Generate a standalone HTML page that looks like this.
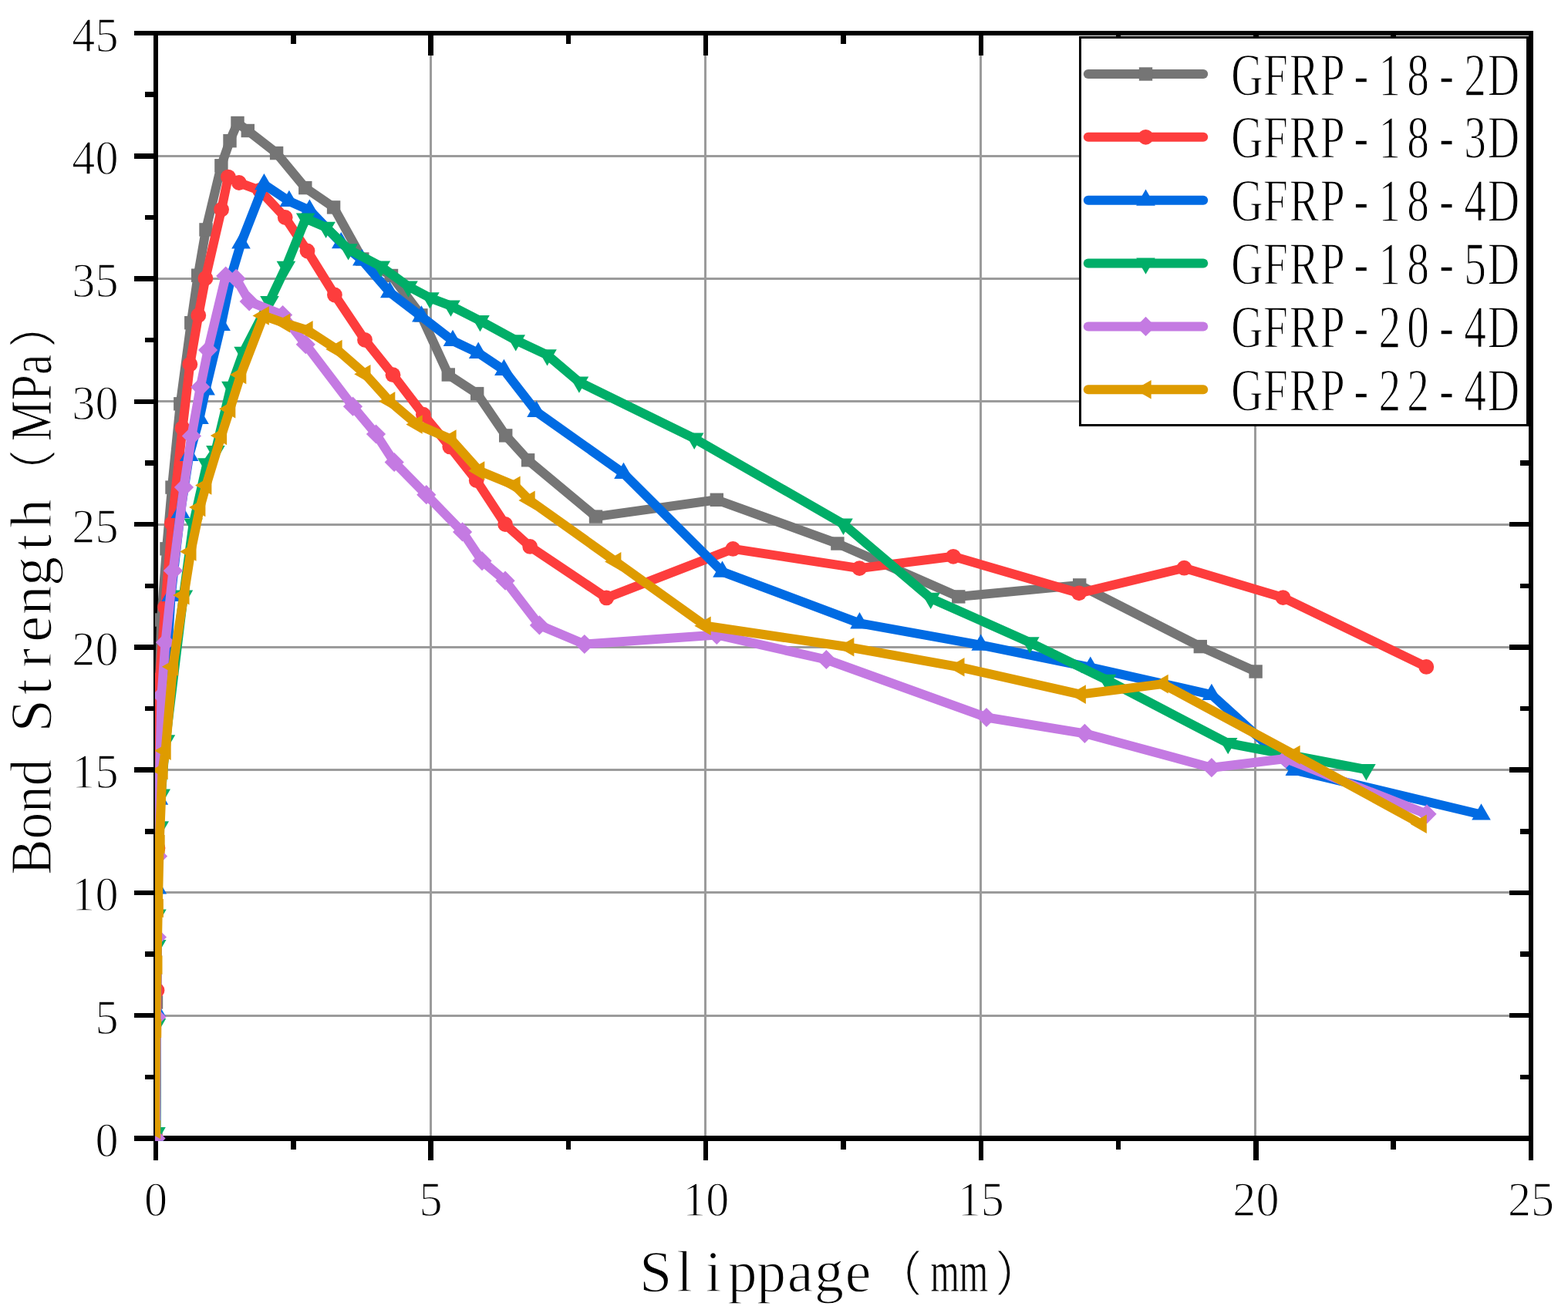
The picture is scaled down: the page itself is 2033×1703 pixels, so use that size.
<!DOCTYPE html>
<html lang="en"><head><meta charset="utf-8">
<style>html,body{margin:0;padding:0;background:#fff;}body{width:2033px;height:1703px;overflow:hidden;}svg{display:block;}text{font-family:'Liberation Serif', 'IPAGothic', serif;fill:#000;stroke:#fff;stroke-width:1.3px;stroke-linejoin:round;}</style>
</head><body>
<svg width="2033" height="1703" viewBox="0 0 2033 1703">
<rect x="0" y="0" width="2033" height="1703" fill="#fff"/>
<defs><clipPath id="plotclip"><rect x="201" y="43" width="1784" height="1436.7"/></clipPath></defs>
<g fill="#9b9b9b" shape-rendering="crispEdges">
<rect x="557" y="43" width="3" height="1433.5"/>
<rect x="913" y="43" width="3" height="1433.5"/>
<rect x="1270" y="43" width="3" height="1433.5"/>
<rect x="1626" y="43" width="3" height="1433.5"/>
<rect x="202" y="1316" width="1783" height="3"/>
<rect x="202" y="1156" width="1783" height="3"/>
<rect x="202" y="997" width="1783" height="3"/>
<rect x="202" y="838" width="1783" height="3"/>
<rect x="202" y="679" width="1783" height="3"/>
<rect x="202" y="519" width="1783" height="3"/>
<rect x="202" y="360" width="1783" height="3"/>
<rect x="202" y="201" width="1783" height="3"/>
</g>
<g stroke="#000" stroke-width="6.5" fill="none" shape-rendering="crispEdges">
<rect x="202" y="43" width="1783" height="1433.5"/>
<line x1="202" y1="1476.5" x2="202" y2="1505"/>
<line x1="202" y1="43" x2="202" y2="71.5"/>
<line x1="380.3" y1="1476.5" x2="380.3" y2="1490.5"/>
<line x1="380.3" y1="43" x2="380.3" y2="57"/>
<line x1="558.6" y1="1476.5" x2="558.6" y2="1505"/>
<line x1="558.6" y1="43" x2="558.6" y2="71.5"/>
<line x1="736.9" y1="1476.5" x2="736.9" y2="1490.5"/>
<line x1="736.9" y1="43" x2="736.9" y2="57"/>
<line x1="915.2" y1="1476.5" x2="915.2" y2="1505"/>
<line x1="915.2" y1="43" x2="915.2" y2="71.5"/>
<line x1="1093.5" y1="1476.5" x2="1093.5" y2="1490.5"/>
<line x1="1093.5" y1="43" x2="1093.5" y2="57"/>
<line x1="1271.8" y1="1476.5" x2="1271.8" y2="1505"/>
<line x1="1271.8" y1="43" x2="1271.8" y2="71.5"/>
<line x1="1450.1" y1="1476.5" x2="1450.1" y2="1490.5"/>
<line x1="1450.1" y1="43" x2="1450.1" y2="57"/>
<line x1="1628.4" y1="1476.5" x2="1628.4" y2="1505"/>
<line x1="1628.4" y1="43" x2="1628.4" y2="71.5"/>
<line x1="1806.7" y1="1476.5" x2="1806.7" y2="1490.5"/>
<line x1="1806.7" y1="43" x2="1806.7" y2="57"/>
<line x1="1985" y1="1476.5" x2="1985" y2="1505"/>
<line x1="1985" y1="43" x2="1985" y2="71.5"/>
<line x1="202" y1="1476.5" x2="173.5" y2="1476.5"/>
<line x1="1985" y1="1476.5" x2="1956.5" y2="1476.5"/>
<line x1="202" y1="1396.86" x2="188" y2="1396.86"/>
<line x1="1985" y1="1396.86" x2="1971" y2="1396.86"/>
<line x1="202" y1="1317.22" x2="173.5" y2="1317.22"/>
<line x1="1985" y1="1317.22" x2="1956.5" y2="1317.22"/>
<line x1="202" y1="1237.58" x2="188" y2="1237.58"/>
<line x1="1985" y1="1237.58" x2="1971" y2="1237.58"/>
<line x1="202" y1="1157.94" x2="173.5" y2="1157.94"/>
<line x1="1985" y1="1157.94" x2="1956.5" y2="1157.94"/>
<line x1="202" y1="1078.31" x2="188" y2="1078.31"/>
<line x1="1985" y1="1078.31" x2="1971" y2="1078.31"/>
<line x1="202" y1="998.67" x2="173.5" y2="998.67"/>
<line x1="1985" y1="998.67" x2="1956.5" y2="998.67"/>
<line x1="202" y1="919.03" x2="188" y2="919.03"/>
<line x1="1985" y1="919.03" x2="1971" y2="919.03"/>
<line x1="202" y1="839.39" x2="173.5" y2="839.39"/>
<line x1="1985" y1="839.39" x2="1956.5" y2="839.39"/>
<line x1="202" y1="759.75" x2="188" y2="759.75"/>
<line x1="1985" y1="759.75" x2="1971" y2="759.75"/>
<line x1="202" y1="680.11" x2="173.5" y2="680.11"/>
<line x1="1985" y1="680.11" x2="1956.5" y2="680.11"/>
<line x1="202" y1="600.47" x2="188" y2="600.47"/>
<line x1="1985" y1="600.47" x2="1971" y2="600.47"/>
<line x1="202" y1="520.83" x2="173.5" y2="520.83"/>
<line x1="1985" y1="520.83" x2="1956.5" y2="520.83"/>
<line x1="202" y1="441.19" x2="188" y2="441.19"/>
<line x1="1985" y1="441.19" x2="1971" y2="441.19"/>
<line x1="202" y1="361.56" x2="173.5" y2="361.56"/>
<line x1="1985" y1="361.56" x2="1956.5" y2="361.56"/>
<line x1="202" y1="281.92" x2="188" y2="281.92"/>
<line x1="1985" y1="281.92" x2="1971" y2="281.92"/>
<line x1="202" y1="202.28" x2="173.5" y2="202.28"/>
<line x1="1985" y1="202.28" x2="1956.5" y2="202.28"/>
<line x1="202" y1="122.64" x2="188" y2="122.64"/>
<line x1="1985" y1="122.64" x2="1971" y2="122.64"/>
<line x1="202" y1="43" x2="173.5" y2="43"/>
<line x1="1985" y1="43" x2="1956.5" y2="43"/>
</g>
<g clip-path="url(#plotclip)">
<g>
<polyline fill="none" stroke="#757575" stroke-width="12.0" stroke-linejoin="round" stroke-linecap="round" points="202,1476.5 202.5,1300 203.5,1100 205.5,950 209,804 216,711.8 223,632.1 233.8,523.8 247.8,418.7 256.7,357.2 267,297.9 286.9,214.8 298,182.7 308,159.5 321.3,169.5 358.6,198.6 395.8,243.6 432.6,268.9 469.8,336 507.5,357.5 545.9,408.9 581.3,486 618.7,510.6 655.7,564.9 684.6,596.8 772.5,670.1 929.3,648.3 1085.9,705 1242.8,773.9 1399.7,758.9 1556.3,838.6 1628.1,871"/>
<rect x="193.3" y="1467.8" width="17.4" height="17.4" fill="#757575"/>
<rect x="193.8" y="1291.3" width="17.4" height="17.4" fill="#757575"/>
<rect x="194.8" y="1091.3" width="17.4" height="17.4" fill="#757575"/>
<rect x="196.8" y="941.3" width="17.4" height="17.4" fill="#757575"/>
<rect x="200.3" y="795.3" width="17.4" height="17.4" fill="#757575"/>
<rect x="207.3" y="703.1" width="17.4" height="17.4" fill="#757575"/>
<rect x="214.3" y="623.4" width="17.4" height="17.4" fill="#757575"/>
<rect x="225.1" y="515.1" width="17.4" height="17.4" fill="#757575"/>
<rect x="239.1" y="410" width="17.4" height="17.4" fill="#757575"/>
<rect x="248" y="348.5" width="17.4" height="17.4" fill="#757575"/>
<rect x="258.3" y="289.2" width="17.4" height="17.4" fill="#757575"/>
<rect x="278.2" y="206.1" width="17.4" height="17.4" fill="#757575"/>
<rect x="289.3" y="174" width="17.4" height="17.4" fill="#757575"/>
<rect x="299.3" y="150.8" width="17.4" height="17.4" fill="#757575"/>
<rect x="312.6" y="160.8" width="17.4" height="17.4" fill="#757575"/>
<rect x="349.9" y="189.9" width="17.4" height="17.4" fill="#757575"/>
<rect x="387.1" y="234.9" width="17.4" height="17.4" fill="#757575"/>
<rect x="423.9" y="260.2" width="17.4" height="17.4" fill="#757575"/>
<rect x="461.1" y="327.3" width="17.4" height="17.4" fill="#757575"/>
<rect x="498.8" y="348.8" width="17.4" height="17.4" fill="#757575"/>
<rect x="537.2" y="400.2" width="17.4" height="17.4" fill="#757575"/>
<rect x="572.6" y="477.3" width="17.4" height="17.4" fill="#757575"/>
<rect x="610" y="501.9" width="17.4" height="17.4" fill="#757575"/>
<rect x="647" y="556.2" width="17.4" height="17.4" fill="#757575"/>
<rect x="675.9" y="588.1" width="17.4" height="17.4" fill="#757575"/>
<rect x="763.8" y="661.4" width="17.4" height="17.4" fill="#757575"/>
<rect x="920.6" y="639.6" width="17.4" height="17.4" fill="#757575"/>
<rect x="1077.2" y="696.3" width="17.4" height="17.4" fill="#757575"/>
<rect x="1234.1" y="765.2" width="17.4" height="17.4" fill="#757575"/>
<rect x="1391" y="750.2" width="17.4" height="17.4" fill="#757575"/>
<rect x="1547.6" y="829.9" width="17.4" height="17.4" fill="#757575"/>
<rect x="1619.4" y="862.3" width="17.4" height="17.4" fill="#757575"/>
</g>
<g>
<polyline fill="none" stroke="#FD3D3D" stroke-width="12.0" stroke-linejoin="round" stroke-linecap="round" points="202,1476.5 203.5,1284.4 204.5,1100 207,881 214.1,787.6 222.9,679.1 236.6,555.2 246.3,472.6 257.3,409.1 266.4,360.9 287.1,271.7 295.9,229.6 309.9,237 337,247 369.7,282 398.5,325.5 433.9,382.5 473,440.8 509.5,486.2 548.9,537.7 583.3,579.4 617.7,623 655.1,680 687.2,708.9 786.3,775.4 950.3,711.9 1114.3,737.1 1236,721.8 1399,769.3 1535.4,736.7 1663.5,775.1 1849.3,864.9"/>
<circle cx="202" cy="1476.5" r="9.9" fill="#FD3D3D"/>
<circle cx="203.5" cy="1284.4" r="9.9" fill="#FD3D3D"/>
<circle cx="204.5" cy="1100" r="9.9" fill="#FD3D3D"/>
<circle cx="207" cy="881" r="9.9" fill="#FD3D3D"/>
<circle cx="214.1" cy="787.6" r="9.9" fill="#FD3D3D"/>
<circle cx="222.9" cy="679.1" r="9.9" fill="#FD3D3D"/>
<circle cx="236.6" cy="555.2" r="9.9" fill="#FD3D3D"/>
<circle cx="246.3" cy="472.6" r="9.9" fill="#FD3D3D"/>
<circle cx="257.3" cy="409.1" r="9.9" fill="#FD3D3D"/>
<circle cx="266.4" cy="360.9" r="9.9" fill="#FD3D3D"/>
<circle cx="287.1" cy="271.7" r="9.9" fill="#FD3D3D"/>
<circle cx="295.9" cy="229.6" r="9.9" fill="#FD3D3D"/>
<circle cx="309.9" cy="237" r="9.9" fill="#FD3D3D"/>
<circle cx="337" cy="247" r="9.9" fill="#FD3D3D"/>
<circle cx="369.7" cy="282" r="9.9" fill="#FD3D3D"/>
<circle cx="398.5" cy="325.5" r="9.9" fill="#FD3D3D"/>
<circle cx="433.9" cy="382.5" r="9.9" fill="#FD3D3D"/>
<circle cx="473" cy="440.8" r="9.9" fill="#FD3D3D"/>
<circle cx="509.5" cy="486.2" r="9.9" fill="#FD3D3D"/>
<circle cx="548.9" cy="537.7" r="9.9" fill="#FD3D3D"/>
<circle cx="583.3" cy="579.4" r="9.9" fill="#FD3D3D"/>
<circle cx="617.7" cy="623" r="9.9" fill="#FD3D3D"/>
<circle cx="655.1" cy="680" r="9.9" fill="#FD3D3D"/>
<circle cx="687.2" cy="708.9" r="9.9" fill="#FD3D3D"/>
<circle cx="786.3" cy="775.4" r="9.9" fill="#FD3D3D"/>
<circle cx="950.3" cy="711.9" r="9.9" fill="#FD3D3D"/>
<circle cx="1114.3" cy="737.1" r="9.9" fill="#FD3D3D"/>
<circle cx="1236" cy="721.8" r="9.9" fill="#FD3D3D"/>
<circle cx="1399" cy="769.3" r="9.9" fill="#FD3D3D"/>
<circle cx="1535.4" cy="736.7" r="9.9" fill="#FD3D3D"/>
<circle cx="1663.5" cy="775.1" r="9.9" fill="#FD3D3D"/>
<circle cx="1849.3" cy="864.9" r="9.9" fill="#FD3D3D"/>
</g>
<g>
<polyline fill="none" stroke="#006BE3" stroke-width="12.0" stroke-linejoin="round" stroke-linecap="round" points="202,1476.5 203,1312 203.8,1152.3 205.9,1036.7 221.6,773 233.9,664.9 245.2,590.9 258.5,542.9 266.6,505.3 286.6,421.9 299.8,358 312.5,315.5 342.4,239.2 374.9,260.9 401.4,272.7 442.3,315.2 469.4,337.3 505.3,379.1 546.4,410.5 587,442 620.2,457.8 653.4,479.9 695.5,534 808.5,614 936.5,741.6 1114.5,808.3 1271.7,836.7 1413.8,865.7 1570.9,901 1678.8,998.8 1920.5,1056.5"/>
<polygon points="202,1462.3 214.3,1483.6 189.7,1483.6" fill="#006BE3"/>
<polygon points="203,1297.8 215.3,1319.1 190.7,1319.1" fill="#006BE3"/>
<polygon points="203.8,1138.1 216.1,1159.4 191.5,1159.4" fill="#006BE3"/>
<polygon points="205.9,1022.5 218.2,1043.8 193.6,1043.8" fill="#006BE3"/>
<polygon points="221.6,758.8 233.9,780.1 209.3,780.1" fill="#006BE3"/>
<polygon points="233.9,650.7 246.2,672 221.6,672" fill="#006BE3"/>
<polygon points="245.2,576.7 257.5,598 232.9,598" fill="#006BE3"/>
<polygon points="258.5,528.7 270.8,550 246.2,550" fill="#006BE3"/>
<polygon points="266.6,491.1 278.9,512.4 254.3,512.4" fill="#006BE3"/>
<polygon points="286.6,407.7 298.9,429 274.3,429" fill="#006BE3"/>
<polygon points="299.8,343.8 312.1,365.1 287.5,365.1" fill="#006BE3"/>
<polygon points="312.5,301.3 324.8,322.6 300.2,322.6" fill="#006BE3"/>
<polygon points="342.4,225 354.7,246.3 330.1,246.3" fill="#006BE3"/>
<polygon points="374.9,246.7 387.2,268 362.6,268" fill="#006BE3"/>
<polygon points="401.4,258.5 413.7,279.8 389.1,279.8" fill="#006BE3"/>
<polygon points="442.3,301 454.6,322.3 430,322.3" fill="#006BE3"/>
<polygon points="469.4,323.1 481.7,344.4 457.1,344.4" fill="#006BE3"/>
<polygon points="505.3,364.9 517.6,386.2 493,386.2" fill="#006BE3"/>
<polygon points="546.4,396.3 558.7,417.6 534.1,417.6" fill="#006BE3"/>
<polygon points="587,427.8 599.3,449.1 574.7,449.1" fill="#006BE3"/>
<polygon points="620.2,443.6 632.5,464.9 607.9,464.9" fill="#006BE3"/>
<polygon points="653.4,465.7 665.7,487 641.1,487" fill="#006BE3"/>
<polygon points="695.5,519.8 707.8,541.1 683.2,541.1" fill="#006BE3"/>
<polygon points="808.5,599.8 820.8,621.1 796.2,621.1" fill="#006BE3"/>
<polygon points="936.5,727.4 948.8,748.7 924.2,748.7" fill="#006BE3"/>
<polygon points="1114.5,794.1 1126.8,815.4 1102.2,815.4" fill="#006BE3"/>
<polygon points="1271.7,822.5 1284,843.8 1259.4,843.8" fill="#006BE3"/>
<polygon points="1413.8,851.5 1426.1,872.8 1401.5,872.8" fill="#006BE3"/>
<polygon points="1570.9,886.8 1583.2,908.1 1558.6,908.1" fill="#006BE3"/>
<polygon points="1678.8,984.6 1691.1,1005.9 1666.5,1005.9" fill="#006BE3"/>
<polygon points="1920.5,1042.3 1932.8,1063.6 1908.2,1063.6" fill="#006BE3"/>
</g>
<g>
<polyline fill="none" stroke="#00AE68" stroke-width="12.0" stroke-linejoin="round" stroke-linecap="round" points="202.5,1469 203,1328 203.2,1226 203.4,1186.6 206.7,1072.4 208.7,1030.7 214.9,960.3 237.9,772.6 250.6,679.5 268.4,601.4 279.4,585.2 299.4,501.8 315.6,456.8 349.5,391 370.9,345.9 396.2,283.5 422.6,294.8 451.6,323.3 493.8,345.5 529.5,371.5 557.4,386.3 584.5,396.6 622.5,416 668.7,441.3 709.5,460.4 750.9,495.5 900.2,568.7 1093.5,679.7 1206.7,775.9 1335.3,833.3 1434.9,881.9 1592.2,964 1771.4,998.2"/>
<polygon points="202.5,1483.2 214.8,1461.9 190.2,1461.9" fill="#00AE68"/>
<polygon points="203,1342.2 215.3,1320.9 190.7,1320.9" fill="#00AE68"/>
<polygon points="203.2,1240.2 215.5,1218.9 190.9,1218.9" fill="#00AE68"/>
<polygon points="203.4,1200.8 215.7,1179.5 191.1,1179.5" fill="#00AE68"/>
<polygon points="206.7,1086.6 219,1065.3 194.4,1065.3" fill="#00AE68"/>
<polygon points="208.7,1044.9 221,1023.6 196.4,1023.6" fill="#00AE68"/>
<polygon points="214.9,974.5 227.2,953.2 202.6,953.2" fill="#00AE68"/>
<polygon points="237.9,786.8 250.2,765.5 225.6,765.5" fill="#00AE68"/>
<polygon points="250.6,693.7 262.9,672.4 238.3,672.4" fill="#00AE68"/>
<polygon points="268.4,615.6 280.7,594.3 256.1,594.3" fill="#00AE68"/>
<polygon points="279.4,599.4 291.7,578.1 267.1,578.1" fill="#00AE68"/>
<polygon points="299.4,516 311.7,494.7 287.1,494.7" fill="#00AE68"/>
<polygon points="315.6,471 327.9,449.7 303.3,449.7" fill="#00AE68"/>
<polygon points="349.5,405.2 361.8,383.9 337.2,383.9" fill="#00AE68"/>
<polygon points="370.9,360.1 383.2,338.8 358.6,338.8" fill="#00AE68"/>
<polygon points="396.2,297.7 408.5,276.4 383.9,276.4" fill="#00AE68"/>
<polygon points="422.6,309 434.9,287.7 410.3,287.7" fill="#00AE68"/>
<polygon points="451.6,337.5 463.9,316.2 439.3,316.2" fill="#00AE68"/>
<polygon points="493.8,359.7 506.1,338.4 481.5,338.4" fill="#00AE68"/>
<polygon points="529.5,385.7 541.8,364.4 517.2,364.4" fill="#00AE68"/>
<polygon points="557.4,400.5 569.7,379.2 545.1,379.2" fill="#00AE68"/>
<polygon points="584.5,410.8 596.8,389.5 572.2,389.5" fill="#00AE68"/>
<polygon points="622.5,430.2 634.8,408.9 610.2,408.9" fill="#00AE68"/>
<polygon points="668.7,455.5 681,434.2 656.4,434.2" fill="#00AE68"/>
<polygon points="709.5,474.6 721.8,453.3 697.2,453.3" fill="#00AE68"/>
<polygon points="750.9,509.7 763.2,488.4 738.6,488.4" fill="#00AE68"/>
<polygon points="900.2,582.9 912.5,561.6 887.9,561.6" fill="#00AE68"/>
<polygon points="1093.5,693.9 1105.8,672.6 1081.2,672.6" fill="#00AE68"/>
<polygon points="1206.7,790.1 1219,768.8 1194.4,768.8" fill="#00AE68"/>
<polygon points="1335.3,847.5 1347.6,826.2 1323,826.2" fill="#00AE68"/>
<polygon points="1434.9,896.1 1447.2,874.8 1422.6,874.8" fill="#00AE68"/>
<polygon points="1592.2,978.2 1604.5,956.9 1579.9,956.9" fill="#00AE68"/>
<polygon points="1771.4,1012.4 1783.7,991.1 1759.1,991.1" fill="#00AE68"/>
</g>
<g>
<polyline fill="none" stroke="#C47AE2" stroke-width="12.0" stroke-linejoin="round" stroke-linecap="round" points="202,1476.5 203,1319 203.5,1215.5 204.5,1110.6 209.5,902 214.5,833.2 224.5,740.2 238.5,632.1 248.4,565.5 259.8,502.1 269.6,454.1 292.7,358 306.2,361.4 323.2,391 366.6,408.6 396.3,446.7 457.5,527.2 487.5,563 511.2,599.5 552.8,641.7 599.6,689.9 625,727.6 655.1,753.2 699.4,810.9 757.8,835.5 929.3,823.4 1071.4,855.5 1279,930.5 1406.4,951.3 1570.9,995.7 1667,984 1850,1055.8"/>
<polygon points="189.4,1476.5 202,1463.9 214.6,1476.5 202,1489.1" fill="#C47AE2"/>
<polygon points="190.4,1319 203,1306.4 215.6,1319 203,1331.6" fill="#C47AE2"/>
<polygon points="190.9,1215.5 203.5,1202.9 216.1,1215.5 203.5,1228.1" fill="#C47AE2"/>
<polygon points="191.9,1110.6 204.5,1098 217.1,1110.6 204.5,1123.2" fill="#C47AE2"/>
<polygon points="196.9,902 209.5,889.4 222.1,902 209.5,914.6" fill="#C47AE2"/>
<polygon points="201.9,833.2 214.5,820.6 227.1,833.2 214.5,845.8" fill="#C47AE2"/>
<polygon points="211.9,740.2 224.5,727.6 237.1,740.2 224.5,752.8" fill="#C47AE2"/>
<polygon points="225.9,632.1 238.5,619.5 251.1,632.1 238.5,644.7" fill="#C47AE2"/>
<polygon points="235.8,565.5 248.4,552.9 261,565.5 248.4,578.1" fill="#C47AE2"/>
<polygon points="247.2,502.1 259.8,489.5 272.4,502.1 259.8,514.7" fill="#C47AE2"/>
<polygon points="257,454.1 269.6,441.5 282.2,454.1 269.6,466.7" fill="#C47AE2"/>
<polygon points="280.1,358 292.7,345.4 305.3,358 292.7,370.6" fill="#C47AE2"/>
<polygon points="293.6,361.4 306.2,348.8 318.8,361.4 306.2,374" fill="#C47AE2"/>
<polygon points="310.6,391 323.2,378.4 335.8,391 323.2,403.6" fill="#C47AE2"/>
<polygon points="354,408.6 366.6,396 379.2,408.6 366.6,421.2" fill="#C47AE2"/>
<polygon points="383.7,446.7 396.3,434.1 408.9,446.7 396.3,459.3" fill="#C47AE2"/>
<polygon points="444.9,527.2 457.5,514.6 470.1,527.2 457.5,539.8" fill="#C47AE2"/>
<polygon points="474.9,563 487.5,550.4 500.1,563 487.5,575.6" fill="#C47AE2"/>
<polygon points="498.6,599.5 511.2,586.9 523.8,599.5 511.2,612.1" fill="#C47AE2"/>
<polygon points="540.2,641.7 552.8,629.1 565.4,641.7 552.8,654.3" fill="#C47AE2"/>
<polygon points="587,689.9 599.6,677.3 612.2,689.9 599.6,702.5" fill="#C47AE2"/>
<polygon points="612.4,727.6 625,715 637.6,727.6 625,740.2" fill="#C47AE2"/>
<polygon points="642.5,753.2 655.1,740.6 667.7,753.2 655.1,765.8" fill="#C47AE2"/>
<polygon points="686.8,810.9 699.4,798.3 712,810.9 699.4,823.5" fill="#C47AE2"/>
<polygon points="745.2,835.5 757.8,822.9 770.4,835.5 757.8,848.1" fill="#C47AE2"/>
<polygon points="916.7,823.4 929.3,810.8 941.9,823.4 929.3,836" fill="#C47AE2"/>
<polygon points="1058.8,855.5 1071.4,842.9 1084,855.5 1071.4,868.1" fill="#C47AE2"/>
<polygon points="1266.4,930.5 1279,917.9 1291.6,930.5 1279,943.1" fill="#C47AE2"/>
<polygon points="1393.8,951.3 1406.4,938.7 1419,951.3 1406.4,963.9" fill="#C47AE2"/>
<polygon points="1558.3,995.7 1570.9,983.1 1583.5,995.7 1570.9,1008.3" fill="#C47AE2"/>
<polygon points="1654.4,984 1667,971.4 1679.6,984 1667,996.6" fill="#C47AE2"/>
<polygon points="1837.4,1055.8 1850,1043.2 1862.6,1055.8 1850,1068.4" fill="#C47AE2"/>
</g>
<g>
<polyline fill="none" stroke="#DE9B00" stroke-width="12.0" stroke-linejoin="round" stroke-linecap="round" points="201,1465 202.1,1334 203.4,1251.6 204.8,1178 206.6,1095 210.6,999 214.6,973.7 224.1,864.7 238.4,772.1 247.4,715.4 259.3,658 267.3,629.5 287,565 298.2,530.3 312.2,486 341.7,409.5 369,419.1 398.5,428.2 436.5,453 473.4,485.2 505.2,520.4 540.6,550.5 584.5,569.6 621.2,610.6 667.5,629.7 686.6,648.9 798.3,728.4 914.6,811.7 1100.3,839.3 1243.4,865.2 1400.8,900.6 1507.6,887.1 1678.5,979.1 1842.7,1068.7"/>
<polygon points="186.8,1465 208.1,1452.7 208.1,1477.3" fill="#DE9B00"/>
<polygon points="187.9,1334 209.2,1321.7 209.2,1346.3" fill="#DE9B00"/>
<polygon points="189.2,1251.6 210.5,1239.3 210.5,1263.9" fill="#DE9B00"/>
<polygon points="190.6,1178 211.9,1165.7 211.9,1190.3" fill="#DE9B00"/>
<polygon points="192.4,1095 213.7,1082.7 213.7,1107.3" fill="#DE9B00"/>
<polygon points="196.4,999 217.7,986.7 217.7,1011.3" fill="#DE9B00"/>
<polygon points="200.4,973.7 221.7,961.4 221.7,986" fill="#DE9B00"/>
<polygon points="209.9,864.7 231.2,852.4 231.2,877" fill="#DE9B00"/>
<polygon points="224.2,772.1 245.5,759.8 245.5,784.4" fill="#DE9B00"/>
<polygon points="233.2,715.4 254.5,703.1 254.5,727.7" fill="#DE9B00"/>
<polygon points="245.1,658 266.4,645.7 266.4,670.3" fill="#DE9B00"/>
<polygon points="253.1,629.5 274.4,617.2 274.4,641.8" fill="#DE9B00"/>
<polygon points="272.8,565 294.1,552.7 294.1,577.3" fill="#DE9B00"/>
<polygon points="284,530.3 305.3,518 305.3,542.6" fill="#DE9B00"/>
<polygon points="298,486 319.3,473.7 319.3,498.3" fill="#DE9B00"/>
<polygon points="327.5,409.5 348.8,397.2 348.8,421.8" fill="#DE9B00"/>
<polygon points="354.8,419.1 376.1,406.8 376.1,431.4" fill="#DE9B00"/>
<polygon points="384.3,428.2 405.6,415.9 405.6,440.5" fill="#DE9B00"/>
<polygon points="422.3,453 443.6,440.7 443.6,465.3" fill="#DE9B00"/>
<polygon points="459.2,485.2 480.5,472.9 480.5,497.5" fill="#DE9B00"/>
<polygon points="491,520.4 512.3,508.1 512.3,532.7" fill="#DE9B00"/>
<polygon points="526.4,550.5 547.7,538.2 547.7,562.8" fill="#DE9B00"/>
<polygon points="570.3,569.6 591.6,557.3 591.6,581.9" fill="#DE9B00"/>
<polygon points="607,610.6 628.3,598.3 628.3,622.9" fill="#DE9B00"/>
<polygon points="653.3,629.7 674.6,617.4 674.6,642" fill="#DE9B00"/>
<polygon points="672.4,648.9 693.7,636.6 693.7,661.2" fill="#DE9B00"/>
<polygon points="784.1,728.4 805.4,716.1 805.4,740.7" fill="#DE9B00"/>
<polygon points="900.4,811.7 921.7,799.4 921.7,824" fill="#DE9B00"/>
<polygon points="1086.1,839.3 1107.4,827 1107.4,851.6" fill="#DE9B00"/>
<polygon points="1229.2,865.2 1250.5,852.9 1250.5,877.5" fill="#DE9B00"/>
<polygon points="1386.6,900.6 1407.9,888.3 1407.9,912.9" fill="#DE9B00"/>
<polygon points="1493.4,887.1 1514.7,874.8 1514.7,899.4" fill="#DE9B00"/>
<polygon points="1664.3,979.1 1685.6,966.8 1685.6,991.4" fill="#DE9B00"/>
<polygon points="1828.5,1068.7 1849.8,1056.4 1849.8,1081" fill="#DE9B00"/>
</g>
</g>
<rect x="1400.5" y="48.5" width="580" height="503.2" fill="#fff" stroke="#000" stroke-width="3" shape-rendering="crispEdges"/>
<line x1="1410.8" y1="96" x2="1560.2" y2="96" stroke="#757575" stroke-width="12.0" stroke-linecap="round"/>
<rect x="1476.8" y="87.3" width="17.4" height="17.4" fill="#757575"/>
<text transform="translate(1598.5,122.5) scale(0.74,1)" font-size="77.5" x="-3.02 53.35 98.99 153.21 211.79 255.26 305.19 361.59 405.05 446.38" y="0">GFRP-18-2D</text>
<line x1="1410.8" y1="177.85" x2="1560.2" y2="177.85" stroke="#FD3D3D" stroke-width="12.0" stroke-linecap="round"/>
<circle cx="1485.5" cy="177.85" r="9.9" fill="#FD3D3D"/>
<text transform="translate(1598.5,204.35) scale(0.74,1)" font-size="77.5" x="-3.02 53.35 98.99 153.21 211.79 255.26 305.19 361.59 405.05 446.38" y="0">GFRP-18-3D</text>
<line x1="1410.8" y1="259.7" x2="1560.2" y2="259.7" stroke="#006BE3" stroke-width="12.0" stroke-linecap="round"/>
<polygon points="1485.5,245.5 1497.8,266.8 1473.2,266.8" fill="#006BE3"/>
<text transform="translate(1598.5,286.2) scale(0.74,1)" font-size="77.5" x="-3.02 53.35 98.99 153.21 211.79 255.26 305.19 361.59 405.05 446.38" y="0">GFRP-18-4D</text>
<line x1="1410.8" y1="341.55" x2="1560.2" y2="341.55" stroke="#00AE68" stroke-width="12.0" stroke-linecap="round"/>
<polygon points="1485.5,355.75 1497.8,334.45 1473.2,334.45" fill="#00AE68"/>
<text transform="translate(1598.5,368.05) scale(0.74,1)" font-size="77.5" x="-3.02 53.35 98.99 153.21 211.79 255.26 305.19 361.59 405.05 446.38" y="0">GFRP-18-5D</text>
<line x1="1410.8" y1="423.4" x2="1560.2" y2="423.4" stroke="#C47AE2" stroke-width="12.0" stroke-linecap="round"/>
<polygon points="1472.9,423.4 1485.5,410.8 1498.1,423.4 1485.5,436" fill="#C47AE2"/>
<text transform="translate(1598.5,449.9) scale(0.74,1)" font-size="77.5" x="-3.02 53.35 98.99 153.21 211.79 255.26 305.19 361.59 405.05 446.38" y="0">GFRP-20-4D</text>
<line x1="1410.8" y1="505.25" x2="1560.2" y2="505.25" stroke="#DE9B00" stroke-width="12.0" stroke-linecap="round"/>
<polygon points="1471.3,505.25 1492.6,492.95 1492.6,517.55" fill="#DE9B00"/>
<text transform="translate(1598.5,531.75) scale(0.74,1)" font-size="77.5" x="-3.02 53.35 98.99 153.21 211.79 255.26 305.19 361.59 405.05 446.38" y="0">GFRP-22-4D</text>
<text transform="translate(202,1576.5) scale(0.94,1)" font-size="64" text-anchor="middle">0</text>
<text transform="translate(558.6,1576.5) scale(0.94,1)" font-size="64" text-anchor="middle">5</text>
<text transform="translate(915.2,1576.5) scale(0.94,1)" font-size="64" text-anchor="middle">10</text>
<text transform="translate(1271.8,1576.5) scale(0.94,1)" font-size="64" text-anchor="middle">15</text>
<text transform="translate(1628.4,1576.5) scale(0.94,1)" font-size="64" text-anchor="middle">20</text>
<text transform="translate(1985,1576.5) scale(0.94,1)" font-size="64" text-anchor="middle">25</text>
<text transform="translate(153.5,1500) scale(0.94,1)" font-size="64" text-anchor="end">0</text>
<text transform="translate(153.5,1340.72) scale(0.94,1)" font-size="64" text-anchor="end">5</text>
<text transform="translate(153.5,1181.44) scale(0.94,1)" font-size="64" text-anchor="end">10</text>
<text transform="translate(153.5,1022.17) scale(0.94,1)" font-size="64" text-anchor="end">15</text>
<text transform="translate(153.5,862.89) scale(0.94,1)" font-size="64" text-anchor="end">20</text>
<text transform="translate(153.5,703.61) scale(0.94,1)" font-size="64" text-anchor="end">25</text>
<text transform="translate(153.5,544.33) scale(0.94,1)" font-size="64" text-anchor="end">30</text>
<text transform="translate(153.5,385.06) scale(0.94,1)" font-size="64" text-anchor="end">35</text>
<text transform="translate(153.5,225.78) scale(0.94,1)" font-size="64" text-anchor="end">40</text>
<text transform="translate(153.5,66.5) scale(0.94,1)" font-size="64" text-anchor="end">45</text>
<text transform="translate(831.35,1675)" font-size="76" y="0"><tspan x="-2.38 45.69 83.19 112.25 149.75 189.38 224.75 264.38">Slippage</tspan><tspan x="301.6" font-size="65">（</tspan><tspan x="375" textLength="75" lengthAdjust="spacingAndGlyphs" stroke-width="0.8">mm</tspan><tspan x="456.5" font-size="65">）</tspan></text>
<text transform="translate(66,1134.65) rotate(-90)" font-size="76" y="0"><tspan x="0" textLength="150" lengthAdjust="spacingAndGlyphs" stroke-width="1.2">Bond</tspan><tspan x="159.25 185.12 233.19 268.6 301.88 337.25 374.75 420.69 449.75"> Strength</tspan><tspan x="489.1" font-size="65">（</tspan><tspan x="562.5" textLength="112.5" lengthAdjust="spacingAndGlyphs" stroke-width="0.9">MPa</tspan><tspan x="681.5" font-size="65">）</tspan></text>
</svg>
</body></html>
